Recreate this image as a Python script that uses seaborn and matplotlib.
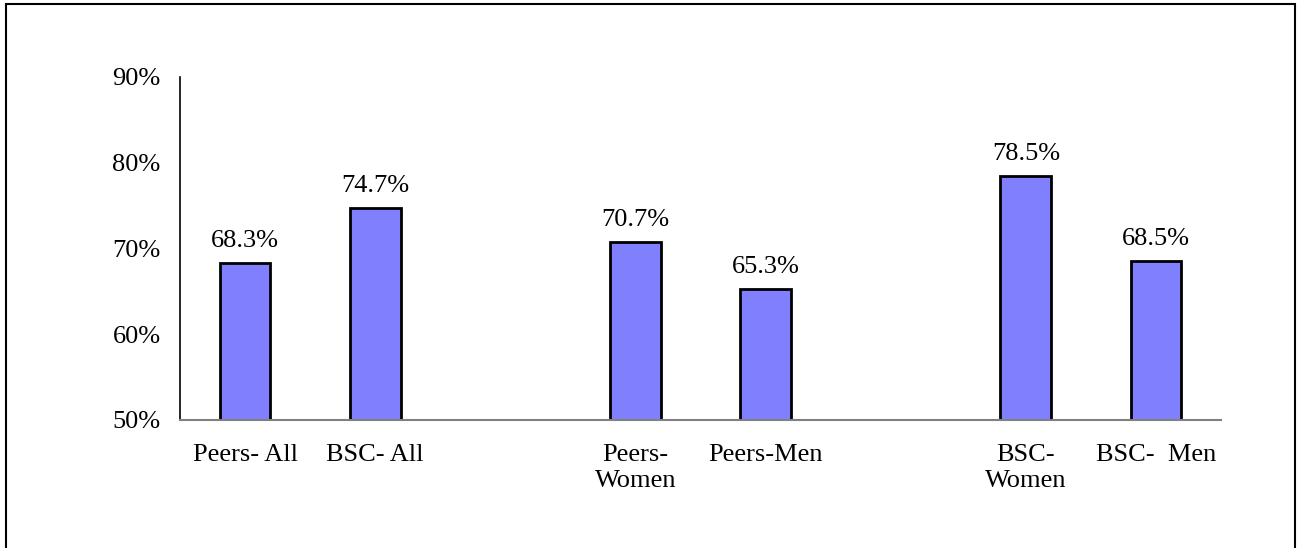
import numpy as np
import pandas as pd
import seaborn as sns
import matplotlib.pyplot as plt
from matplotlib.patches import Rectangle

##### Data #####
slots = ['Peers- All', 'BSC- All', 'gap1', 'Peers-\nWomen', 'Peers-Men', 'gap2', 'BSC-\nWomen', 'BSC-  Men']
tick_labels = ['Peers- All', 'BSC- All', '', 'Peers-\nWomen', 'Peers-Men', '', 'BSC-\nWomen', 'BSC-  Men']
categories = ['Peers- All', 'BSC- All', 'Peers-\nWomen', 'Peers-Men', 'BSC-\nWomen', 'BSC-  Men']
values = [68.3, 74.7, 70.7, 65.3, 78.5, 68.5]
yticks = [50, 60, 70, 80, 90]

df = pd.DataFrame({'group': categories, 'pct': values})

##### Plot #####
sns.set_style('white')
plt.rcParams['font.family'] = ['Liberation Serif', 'DejaVu Serif']
plt.rcParams['text.color'] = 'black'
plt.rcParams['xtick.color'] = 'black'
plt.rcParams['ytick.color'] = 'black'

fig = plt.figure(figsize=(13.01, 5.48), dpi=100)
ax = fig.add_axes([180/1301, 1-420/548, 1041/1301, 343/548])

sns.barplot(data=df, x='group', y='pct', order=slots, color='#8080FF', saturation=1,
            width=0.39, edgecolor='black', linewidth=2, ax=ax, errorbar=None)

# value labels above the bars
for c in ax.containers:
    ax.bar_label(c, labels=['' if np.isnan(v) else '%.1f%%' % v for v in c.datavalues],
                 padding=8, fontsize=19, color='black')

ax.set_ylim(50, 90)
ax.set_xlim(-0.5, len(slots)-0.5)
ax.set_yticks(yticks)
ax.set_yticklabels(['%d%%' % t for t in yticks], fontsize=19)
ax.set_xticks(range(len(slots)))
ax.set_xticklabels(tick_labels, fontsize=19, linespacing=1.25)
ax.tick_params(axis='x', length=0, pad=17)
ax.tick_params(axis='y', length=0, pad=14)
ax.set(xlabel='', ylabel='')

for s in ['top', 'right']:
    ax.spines[s].set_visible(False)
ax.spines['left'].set_color('black')
ax.spines['left'].set_linewidth(1.2)
ax.spines['bottom'].set_color('#808080')
ax.spines['bottom'].set_linewidth(1.5)

# outer frame
fig.patches.append(Rectangle((6/1301, -0.05), 1289/1301, 1.05 - 4/548, transform=fig.transFigure,
                             fill=False, edgecolor='black', linewidth=1.5))

fig.savefig('out.png', dpi=100)
